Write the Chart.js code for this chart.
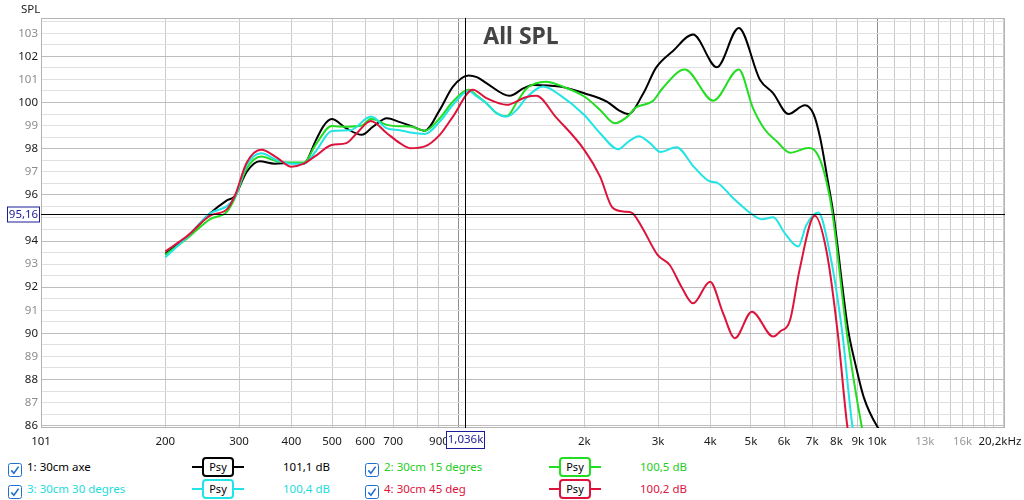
<!DOCTYPE html>
<html>
<head>
<meta charset="utf-8">
<title>All SPL</title>
<script src="https://cdn.jsdelivr.net/npm/chart.js@4.4.1/dist/chart.umd.min.js"></script>
<style>
  body { margin: 0; background: #fff; font-family: "Noto Sans", sans-serif; }
  #wrap { position: absolute; left: 0; top: 0; width: 1024px; height: 455px; }
  .leg { position: absolute; font-size: 11.5px; line-height: 16px; white-space: nowrap; }
  .chk { position: absolute; width: 14px; height: 14px; }
  .psy { position: absolute; width: 52px; height: 20px; }
  .psy .ln { position: absolute; left: 0; right: 0; top: 9px; height: 2px; }
  .psy .bx { position: absolute; left: 10px; width: 28px; top: 0; height: 16px; border: 2px solid; border-radius: 4px;
             background: #fff; font-size: 11px; line-height: 16px; text-align: center; color: #000; }
</style>
</head>
<body>
<div id="wrap"><canvas id="spl"></canvas></div>
<div id="legend"></div>
<script>
// measurements (Hz / dB SPL)
const axeFreq = [200, 225, 256, 280, 293, 313, 336, 365, 400, 428, 458, 477, 499, 541, 589, 626, 676, 726, 768, 833, 904, 972,
  1059, 1108, 1168, 1327, 1434, 1510, 1747, 2000, 2265, 2425, 2548, 2768, 2966, 3252, 3637, 4146, 4676, 5252, 5646, 6142,
  6727, 7060, 7313, 7656, 7866, 8530, 8868, 9283, 10010, 10400];
const axeSpl = [93.45, 94.15, 95.2, 95.75, 95.95, 97.0, 97.45, 97.35, 97.38, 97.35, 98.38, 98.98, 99.28, 98.88, 98.6, 98.95, 99.32, 99.15, 99.0, 98.78, 99.68, 100.69,
  101.17, 101.1, 100.84, 100.29, 100.62, 100.76, 100.69, 100.4, 100.04, 99.65, 99.5, 100.4, 101.5, 102.22, 102.94, 101.53, 103.23, 100.99, 100.41, 99.5,
  99.88, 99.48, 98.47, 96.44, 95.17, 90.15, 88.7, 87.26, 85.96, 85.6];

const deg15Freq = [200, 225, 256, 280, 293, 313, 339, 370, 400, 428, 458, 499, 541, 589, 619, 676, 726, 768, 833, 904, 972,
  1059, 1108, 1168, 1235, 1306, 1380, 1455, 1626, 1747, 2000, 2182, 2364, 2548, 2648, 2915, 3080, 3475, 4066, 4676, 5053,
  5395, 5760, 6200, 6856, 7060, 7313, 7590, 7830, 8470, 9185, 9500];
const deg15Spl = [93.4, 94.1, 94.95, 95.25, 95.85, 97.15, 97.66, 97.45, 97.4, 97.4, 98.2, 98.98, 98.95, 99.0, 99.3, 99.03, 98.97, 98.96, 98.78, 99.32, 100.04,
  100.55, 100.3, 99.97, 99.54, 99.4, 100.0, 100.6, 100.9, 100.74, 100.26, 99.68, 99.1, 99.42, 99.77, 100.06, 100.63, 101.43, 100.08, 101.43, 99.77,
  98.83, 98.32, 97.82, 98.03, 97.96, 97.51, 96.5, 95.17, 90.0, 86.0, 84.8];

const deg30Freq = [200, 225, 256, 280, 293, 313, 339, 370, 400, 428, 458, 499, 553, 619, 676, 726, 768, 833, 904, 972,
  1059, 1108, 1168, 1235, 1306, 1380, 1455, 1596, 1747, 2000, 2182, 2410, 2548, 2699, 2870, 3039, 3322, 3650, 3981, 4146,
  4536, 5053, 5310, 5650, 6020, 6484, 6776, 7241, 7656, 8244, 8730, 9000];
const deg30Spl = [93.3, 94.15, 95.2, 95.5, 95.9, 97.3, 97.8, 97.5, 97.35, 97.35, 97.9, 98.77, 98.8, 99.39, 98.88, 98.8, 98.7, 98.64, 99.17, 99.9,
  100.5, 100.26, 99.97, 99.54, 99.39, 99.68, 100.2, 100.69, 100.33, 99.46, 98.67, 97.98, 98.3, 98.54, 98.24, 97.86, 98.06, 97.22, 96.59, 96.53,
  95.85, 95.13, 94.94, 95.03, 94.34, 93.76, 94.68, 95.23, 93.76, 90.15, 86.0, 84.8];

const deg45Freq = [200, 225, 256, 280, 293, 313, 339, 370, 400, 428, 458, 499, 541, 573, 619, 676, 726, 768, 833, 904, 972,
  1084, 1168, 1306, 1450, 1537, 1707, 2000, 2182, 2335, 2500, 2594, 2742, 2992, 3200, 3411, 3637, 3993, 4290, 4578, 5025,
  5650, 5860, 6200, 6530, 7100, 7590, 8069, 8487, 8700];
const deg45Spl = [93.55, 94.2, 95.1, 95.36, 95.95, 97.4, 97.95, 97.6, 97.22, 97.35, 97.7, 98.16, 98.24, 98.67, 99.2, 98.67, 98.24, 98.02, 98.1, 98.6, 99.39,
  100.55, 100.19, 99.9, 100.23, 100.29, 99.39, 97.95, 96.79, 95.45, 95.27, 95.23, 94.62, 93.4, 92.96, 92.02, 91.3, 92.24, 90.87, 89.79, 90.94,
  89.86, 90.07, 90.58, 92.75, 95.09, 93.47, 89.9, 86.0, 84.8];

// legend
const legendNames = ['1: 30cm axe', '2: 30cm 15 degres', '3: 30cm 30 degres', '4: 30cm 45 deg'];
const legendLevels = ['101,1 dB', '100,5 dB', '100,4 dB', '100,2 dB'];
const seriesColors = ['#000000', '#22dd22', '#22e4e4', '#dc143c'];
const legendText = ['#000000', '#22cc22', '#22dcdc', '#dc143c'];

// axes
const xTickValues = [101, 200, 300, 400, 500, 600, 700, 800, 900, 1000, 2000, 3000, 4000, 5000, 6000, 7000, 8000, 9000,
  10000, 11000, 12000, 13000, 14000, 15000, 16000, 17000, 18000, 19000, 19650, 20000];
const xTickLabels = ['101', '200', '300', '400', '500', '600', '700', '', '900', '', '2k', '3k', '4k', '5k', '6k', '7k', '8k', '9k',
  '10k', '', '', '13k', '', '', '16k', '', '', '', '20,2kHz', ''];
const xFaintLabels = ['13k', '16k'];
const yTickValues = [86, 87, 88, 89, 90, 91, 92, 93, 94, 95, 96, 97, 98, 99, 100, 101, 102, 103];
const yTickLabels = ['86', '87', '88', '89', '90', '91', '92', '93', '94', '', '96', '97', '98', '99', '100', '101', '102', '103'];

const cursorFreq = 1036;
const cursorSpl = 95.16;
const cursorFreqText = '1,036k';
const cursorSplText = '95,16';

const FONT = '"Noto Sans", sans-serif';

function series(label, freq, spl, color, order) {
  return {
    label,
    data: freq.map((f, i) => ({ x: f, y: spl[i] })),
    borderColor: color,
    borderWidth: 2,
    pointRadius: 0,
    fill: false,
    cubicInterpolationMode: 'monotone',
    order
  };
}

const datasets = [
  series(legendNames[0], axeFreq, axeSpl, seriesColors[0], 4),
  series(legendNames[1], deg15Freq, deg15Spl, seriesColors[1], 3),
  series(legendNames[2], deg30Freq, deg30Spl, seriesColors[2], 2),
  series(legendNames[3], deg45Freq, deg45Spl, seriesColors[3], 1)
];

function xGridColor(v) {
  if (v === 101 || v === 19650) return 'rgba(0,0,0,0)';
  if (v === 1000 || v === 10000) return '#8e8e8e';
  return '#cbcbcb';
}

// frame, title, cursors
const decor = {
  id: 'decor',
  beforeDatasetsDraw(chart) {
    const { ctx, chartArea: a } = chart;
    ctx.save();
    ctx.strokeStyle = '#b4b4b4';
    ctx.lineWidth = 1;
    ctx.strokeRect(a.left + 0.5, a.top + 0.5, a.right - a.left - 1, a.bottom - a.top - 1);
    ctx.fillStyle = '#222';
    ctx.font = '11.5px ' + FONT;
    ctx.textAlign = 'left';
    ctx.textBaseline = 'alphabetic';
    ctx.fillText('SPL', 21, 13);
    ctx.fillStyle = '#444';
    ctx.font = 'bold 23px ' + FONT;
    ctx.textAlign = 'center';
    ctx.fillText('All SPL', 521, 44);
    ctx.restore();
  },
  afterDraw(chart) {
    const { ctx, chartArea: a, scales } = chart;
    const cx = Math.round(scales.x.getPixelForValue(cursorFreq)) + 0.5;
    const cy = Math.round(scales.y.getPixelForValue(cursorSpl)) + 0.5;
    ctx.save();
    ctx.strokeStyle = '#000';
    ctx.lineWidth = 1;
    ctx.beginPath();
    ctx.moveTo(cx, a.top);
    ctx.lineTo(cx, a.bottom);
    ctx.moveTo(a.left, cy);
    ctx.lineTo(a.right, cy);
    ctx.stroke();

    ctx.font = '11.5px ' + FONT;
    ctx.textAlign = 'center';
    ctx.textBaseline = 'middle';
    ctx.strokeStyle = '#1c1c9a';
    ctx.fillStyle = '#fff';
    // x cursor label
    ctx.fillRect(cx - 19, a.bottom + 3, 38, 17);
    ctx.strokeRect(cx - 19, a.bottom + 3.5, 38, 17);
    ctx.fillStyle = '#1c1c9a';
    ctx.fillText(cursorFreqText, cx, a.bottom + 12);
    // y cursor label
    ctx.fillStyle = '#fff';
    ctx.fillRect(7, cy - 7.5, 32, 15);
    ctx.strokeRect(7.5, cy - 7.5, 32, 15);
    ctx.fillStyle = '#1c1c9a';
    ctx.fillText(cursorSplText, 23.5, cy + 0.5);
    ctx.restore();
  }
};

new Chart(document.getElementById('spl'), {
  type: 'line',
  data: { datasets },
  options: {
    responsive: true,
    maintainAspectRatio: false,
    animation: false,
    layout: { padding: { left: 0, top: 18, right: 19, bottom: 0 } },
    plugins: {
      legend: { display: false },
      tooltip: { enabled: false },
      title: { display: false }
    },
    scales: {
      x: {
        type: 'logarithmic',
        min: 101,
        max: 20200,
        afterBuildTicks: s => { s.ticks = xTickValues.map(v => ({ value: v })); },
        afterFit: s => { s.height = 27; s.paddingLeft = 0; s.paddingRight = 0; },
        border: { display: false },
        grid: {
          drawTicks: false,
          color: c => xGridColor(c.tick ? c.tick.value : 0)
        },
        ticks: {
          autoSkip: false,
          maxRotation: 0,
          padding: 7,
          font: { family: FONT, size: 11.5 },
          color: c => xFaintLabels.includes(xTickLabels[c.index]) ? '#9a9a9a' : '#1a1a1a',
          callback: (v, i) => xTickLabels[i]
        }
      },
      y: {
        type: 'linear',
        min: 85.9,
        max: 103.66,
        afterBuildTicks: s => {
          s.ticks = yTickValues.flatMap(v => [{ value: v }, { value: v + 0.5 }]);
        },
        afterFit: s => { s.width = 41; s.paddingTop = 0; s.paddingBottom = 0; },
        border: { display: false },
        grid: {
          drawTicks: false,
          color: c => {
            const v = c.tick ? c.tick.value : 0;
            return Number.isInteger(v) && v % 2 === 0 ? '#bdbdbd' : '#e0e0e0';
          }
        },
        ticks: {
          autoSkip: false,
          padding: 3,
          font: { family: FONT, size: 11.5 },
          color: c => {
            const v = c.tick ? c.tick.value : 0;
            return v % 2 === 0 ? '#1a1a1a' : '#8c8c8c';
          },
          callback: v => {
            const i = yTickValues.indexOf(v);
            return i >= 0 ? yTickLabels[i] : '';
          }
        }
      }
    }
  },
  plugins: [decor]
});

// legend below the plot
const check = c => '<svg width="14" height="14"><rect x="0.5" y="0.5" width="13" height="13" rx="2" fill="#fff" stroke="' + c +
  '"/><path d="M3.3 7.4 L5.9 10.2 L10.6 3.6" fill="none" stroke="' + c + '" stroke-width="1.6"/></svg>';
const rowY = [467, 489];
const colX = [0, 357];
let html = '';
legendNames.forEach((name, i) => {
  const y = rowY[Math.floor(i / 2)];
  const x = colX[i % 2];
  html += '<div class="chk" style="left:' + (x + 8) + 'px;top:' + (y - 7) + 'px">' + check('#1f6fd0') + '</div>';
  html += '<div class="leg" style="left:' + (x + 27) + 'px;top:' + (y - 8) + 'px;color:' + legendText[i] + '">' + name + '</div>';
  html += '<div class="psy" style="left:' + (x + 192) + 'px;top:' + (y - 10) + 'px"><div class="ln" style="background:' + seriesColors[i] +
    '"></div><div class="bx" style="border-color:' + seriesColors[i] + '">Psy</div></div>';
  html += '<div class="leg" style="left:' + (x + 283) + 'px;top:' + (y - 8) + 'px;color:' + legendText[i] + '">' + legendLevels[i] + '</div>';
});
document.getElementById('legend').innerHTML = html;
</script>
</body>
</html>
